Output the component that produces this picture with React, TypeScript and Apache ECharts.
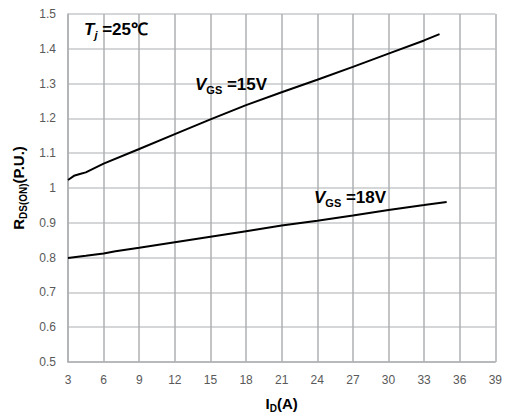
import React, { useEffect, useRef } from "react";
import * as echarts from "echarts";

const xTicks = { min: 3, max: 39, interval: 3 };
const yTicks = { min: 0.5, max: 1.5, interval: 0.1 };

const vgs15X = [3, 3.5, 4, 4.5, 6, 9, 12, 15, 18, 21, 24, 27, 30, 33, 34.3];
const vgs15Y = [1.023, 1.035, 1.04, 1.045, 1.07, 1.112, 1.155, 1.197, 1.238, 1.275, 1.311, 1.348, 1.386, 1.424, 1.442];

const vgs18X = [3, 4.5, 6, 7, 9, 12, 15, 18, 21, 24, 27, 30, 33, 34.9];
const vgs18Y = [0.799, 0.805, 0.812, 0.818, 0.828, 0.844, 0.86, 0.876, 0.892, 0.906, 0.921, 0.937, 0.951, 0.96];

const FONT = "Liberation Sans";

export default function App() {
  const ref = useRef<HTMLDivElement>(null);
  useEffect(() => {
    if (!ref.current) return;
    const chart = echarts.init(ref.current, undefined, { renderer: "svg" });
    const vColor = "#aeb0b3";
    const hColor = "#c6c8cb";
    const annRich = {
      i: { fontStyle: "italic", fontWeight: "bold", fontSize: 17, fontFamily: FONT, color: "#000" },
      s: { fontWeight: "bold", fontSize: 11, fontFamily: FONT, padding: [10, 0, 0, 0], color: "#000" },
      si: { fontStyle: "italic", fontWeight: "bold", fontSize: 11, fontFamily: FONT, padding: [10, 0, 0, 0], color: "#000" },
      b: { fontWeight: "bold", fontSize: 17, fontFamily: FONT, color: "#000" },
    };
    chart.setOption({
      animation: false,
      grid: { left: 68, right: 7, top: 14, bottom: 53, containLabel: false },
      xAxis: {
        type: "value",
        min: xTicks.min,
        max: xTicks.max,
        interval: xTicks.interval,
        name: "{a|I}{b|D}{a|(A)}",
        nameLocation: "middle",
        nameGap: 32,
        nameTextStyle: {
          rich: {
            a: { fontWeight: "bold", fontSize: 15, fontFamily: FONT, color: "#000" },
            b: { fontWeight: "bold", fontSize: 10, fontFamily: FONT, color: "#000", padding: [9, 0, 0, 0] },
          },
        },
        axisLine: { show: true, lineStyle: { color: vColor, width: 1.5 } },
        axisTick: { show: false },
        axisLabel: { color: "#595959", fontSize: 12, fontFamily: FONT, margin: 12 },
        splitLine: { show: true, lineStyle: { color: vColor, width: 1.5, type: "solid" } },
      },
      yAxis: {
        type: "value",
        min: yTicks.min,
        max: yTicks.max,
        interval: yTicks.interval,
        name: "{a|R}{b|DS(ON)}{a|(P.U.)}",
        nameLocation: "middle",
        nameGap: 36,
        nameRotate: 90,
        nameTextStyle: {
          rich: {
            a: { fontWeight: "bold", fontSize: 15, fontFamily: FONT, color: "#000" },
            b: { fontWeight: "bold", fontSize: 10, fontFamily: FONT, color: "#000", padding: [9, 0, 0, 0] },
          },
        },
        axisLine: { show: true, lineStyle: { color: vColor, width: 1.5 } },
        axisTick: { show: false },
        axisLabel: {
          color: "#595959",
          fontSize: 12,
          fontFamily: FONT,
          margin: 12,
          formatter: (v: number) => String(Math.round(v * 10) / 10),
        },
        splitLine: { show: true, lineStyle: { color: hColor, width: 1.5, type: "solid" } },
      },
      series: [
        {
          name: "VGS=15V",
          type: "line",
          data: vgs15X.map((x, i) => [x, vgs15Y[i]]),
          showSymbol: false,
          lineStyle: { color: "#000", width: 2 },
          itemStyle: { color: "#000" },
          z: 5,
        },
        {
          name: "VGS=18V",
          type: "line",
          data: vgs18X.map((x, i) => [x, vgs18Y[i]]),
          showSymbol: false,
          lineStyle: { color: "#000", width: 2 },
          itemStyle: { color: "#000" },
          z: 5,
        },
      ],
      graphic: [
        {
          type: "text",
          left: 84,
          top: 21,
          z: 10,
          style: { text: "{i|T}{si|j}{b| =25℃}", rich: annRich },
        },
        {
          type: "text",
          left: 195,
          top: 76,
          z: 10,
          style: { text: "{i|V}{s|GS}{b| =15V}", rich: annRich },
        },
        {
          type: "text",
          left: 314,
          top: 189,
          z: 10,
          style: { text: "{i|V}{s|GS}{b| =18V}", rich: annRich },
        },
      ],
    });
    return () => chart.dispose();
  }, []);
  return (
    <div
      ref={ref}
      style={{ position: "absolute", left: 0, top: 0, width: 505, height: 418, background: "#fff" }}
    />
  );
}
